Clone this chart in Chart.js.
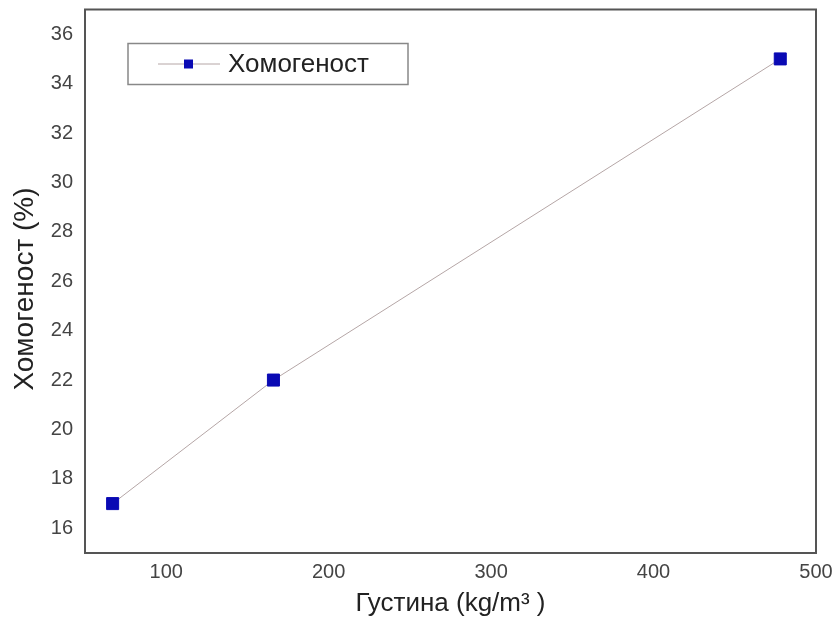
<!DOCTYPE html>
<html>
<head>
<meta charset="utf-8">
<script src="https://cdn.jsdelivr.net/npm/chart.js@4/dist/chart.umd.min.js"></script>
<style>
  html, body { margin: 0; padding: 0; background: #fff; }
  #wrap { width: 836px; height: 624px; }
</style>
</head>
<body>
<div id="wrap"><canvas id="c"></canvas></div>
<script>
// density (kg/m3) vs homogeneity (%)
var density = [67, 166, 478];
var homogeneity = [17, 22, 35];
var xTicks = [100, 200, 300, 400, 500];
var yTicks = [16, 18, 20, 22, 24, 26, 28, 30, 32, 34, 36];
var seriesName = 'Хомогеност';

var points = density.map(function(d, i) { return { x: d, y: homogeneity[i] }; });

// frame round the plot + boxed legend in the top left corner
var framePlugin = {
  id: 'frame',
  afterDraw: function(chart) {
    var ctx = chart.ctx, a = chart.chartArea;
    ctx.save();
    ctx.strokeStyle = '#555';
    ctx.lineWidth = 2;
    ctx.strokeRect(a.left, a.top, a.right - a.left, a.bottom - a.top);

    var ds = chart.data.datasets[0];
    var bx = a.left + 43, by = a.top + 34, bw = 280, bh = 41;
    ctx.strokeStyle = '#888';
    ctx.lineWidth = 1.5;
    ctx.strokeRect(bx, by, bw, bh);
    var cy = by + bh / 2;
    ctx.strokeStyle = ds.borderColor;
    ctx.lineWidth = 1;
    ctx.beginPath();
    ctx.moveTo(bx + 30, cy);
    ctx.lineTo(bx + 92, cy);
    ctx.stroke();
    ctx.fillStyle = ds.pointBackgroundColor;
    ctx.fillRect(bx + 56, cy - 4.5, 9, 9);
    ctx.fillStyle = '#222';
    ctx.font = '26px "Liberation Sans", Arial, sans-serif';
    ctx.textBaseline = 'middle';
    ctx.fillText(ds.label, bx + 100, cy + 1);
    ctx.restore();
  }
};

new Chart(document.getElementById('c'), {
  type: 'scatter',
  data: {
    datasets: [{
      label: seriesName,
      data: points,
      showLine: true,
      borderColor: '#b5a6a6',
      borderWidth: 1,
      pointStyle: 'rect',
      pointRadius: 8.5,
      pointBackgroundColor: '#0a0ab4',
      pointBorderColor: '#0a0ab4',
      pointBorderWidth: 1
    }]
  },
  options: {
    responsive: true,
    maintainAspectRatio: false,
    animation: false,
    layout: { padding: { left: 0, right: 20, top: 8, bottom: 0 } },
    plugins: { legend: { display: false }, tooltip: { enabled: false } },
    scales: {
      x: {
        type: 'linear',
        min: 50, max: 500,
        afterBuildTicks: function(s) { s.ticks = xTicks.map(function(v) { return { value: v }; }); },
        afterFit: function(s) { s.height = 71; s.paddingLeft = 0; s.paddingRight = 0; },
        grid: { display: false, drawTicks: false },
        border: { display: false },
        ticks: { color: '#444', padding: 7, maxRotation: 0, font: { size: 20, family: '"Liberation Sans", Arial, sans-serif' } },
        title: {
          display: true,
          text: 'Густина (kg/m³ )',
          color: '#222',
          padding: { top: 0, bottom: 5 },
          font: { size: 26, family: '"Liberation Sans", Arial, sans-serif' }
        }
      },
      y: {
        min: 15, max: 37,
        afterBuildTicks: function(s) { s.ticks = yTicks.map(function(v) { return { value: v }; }); },
        afterFit: function(s) { s.width = 85; s.paddingTop = 0; s.paddingBottom = 0; },
        grid: { display: false, drawTicks: false },
        border: { display: false },
        ticks: { color: '#444', padding: 12, font: { size: 20, family: '"Liberation Sans", Arial, sans-serif' } },
        title: {
          display: true,
          text: 'Хомогеност (%)  ',
          color: '#222',
          padding: { top: 8, bottom: 0 },
          font: { size: 28, family: '"Liberation Sans", Arial, sans-serif' }
        }
      }
    }
  },
  plugins: [framePlugin]
});
</script>
</body>
</html>
